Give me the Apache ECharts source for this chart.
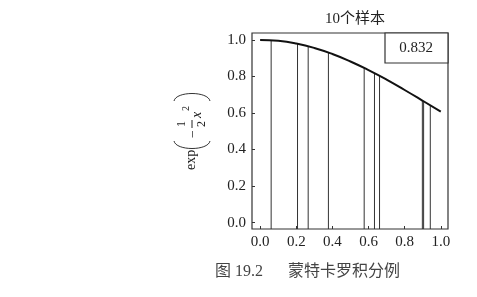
<!DOCTYPE html>
<html><head><meta charset="utf-8">
<script src="https://cdn.jsdelivr.net/npm/echarts@6/dist/echarts.min.js"></script>
<style>html,body{margin:0;padding:0;background:#fff}#c{width:477px;height:297px}</style>
</head><body><div id="c"></div>
<script>
// curve exp(-x^2/2)
const curveX = [0, 0.1, 0.2, 0.3, 0.4, 0.5, 0.6, 0.7, 0.8, 0.9, 1.0];
const curveY = [1.0, 0.995, 0.980, 0.956, 0.923, 0.882, 0.835, 0.783, 0.726, 0.667, 0.607];
// sample positions and heights
const sampleX = [0.061, 0.207, 0.266, 0.378, 0.576, 0.633, 0.661, 0.898, 0.905, 0.942];
const sampleY = [0.998, 0.979, 0.965, 0.931, 0.847, 0.819, 0.804, 0.668, 0.664, 0.642];
const tickVals = [0, 0.2, 0.4, 0.6, 0.8, 1.0];
const estimate = '0.832';
const titleText = '10个样本';
const captionNum = '图 19.2';
const captionText = '蒙特卡罗积分例';

const X_MIN = -0.045, X_MAX = 1.04, Y_MIN = -0.035, Y_MAX = 1.038;
const serif = '"Liberation Serif","Noto Sans CJK SC",serif';
const chart = echarts.init(document.getElementById('c'));
const axisCommon = {
  type: 'value',
  splitLine: {show: false},
  axisLine: {show: false, onZero: false},
  axisTick: {show: true, inside: true, length: 3, customValues: tickVals, lineStyle: {color: '#333'}},
  axisLabel: {customValues: tickVals, formatter: v => v.toFixed(1), color: '#222', fontFamily: serif, fontSize: 15, margin: 6}
};
chart.setOption({
  animation: false,
  title: {text: titleText, left: 350, textAlign: 'center', top: 7,
    textStyle: {fontFamily: serif, fontSize: 15, fontWeight: 'normal', color: '#222'}},
  grid: {left: 252, top: 33, width: 196, height: 196, show: true, borderColor: '#333', borderWidth: 1.2, backgroundColor: 'transparent'},
  xAxis: Object.assign({}, axisCommon, {min: X_MIN, max: X_MAX}),
  yAxis: Object.assign({}, axisCommon, {min: Y_MIN, max: Y_MAX}),
  series: [
    {
      type: 'custom',
      data: sampleX.map((x, i) => [x, sampleY[i]]),
      renderItem: (params, api) => {
        const top = api.coord([api.value(0), api.value(1)]);
        const bot = api.coord([api.value(0), Y_MIN]);
        return {type: 'line', shape: {x1: top[0], y1: top[1], x2: bot[0], y2: bot[1]},
          style: {stroke: '#333', lineWidth: 1}};
      },
      z: 2
    },
    {
      type: 'line', smooth: true, symbol: 'none',
      data: curveX.map((x, i) => [x, curveY[i]]),
      lineStyle: {color: '#111', width: 2}, z: 3
    }
  ],
  graphic: [
    {type: 'rect', shape: {x: 385, y: 33, width: 63, height: 30}, style: {fill: '#fff', stroke: '#333', lineWidth: 1.2}, z: 10},
    {type: 'text', x: 416, y: 48, style: {text: estimate, fontFamily: serif, fontSize: 15, fill: '#222', align: 'center', verticalAlign: 'middle'}, z: 11},
    {type: 'text', x: 215, y: 272, style: {text: captionNum, fontFamily: serif, fontSize: 16, fill: '#444', verticalAlign: 'middle'}},
    {type: 'text', x: 288, y: 272, style: {text: captionText, fontFamily: serif, fontSize: 16, fill: '#444', verticalAlign: 'middle'}},
    {type: 'group', x: 192, y: 170, rotation: Math.PI / 2, children: [
      {type: 'text', x: 0, y: -1, style: {text: 'exp', fontFamily: serif, fontSize: 14, fill: '#222', verticalAlign: 'middle'}},
      {type: 'bezierCurve', shape: {x1: 29, y1: -18, cpx1: 19, cpy1: -16, cpx2: 19, cpy2: 16, x2: 29, y2: 18}, style: {stroke: '#333', lineWidth: 1, fill: null}},
      {type: 'bezierCurve', shape: {x1: 69, y1: -18, cpx1: 79, cpy1: -16, cpx2: 79, cpy2: 16, x2: 69, y2: 18}, style: {stroke: '#333', lineWidth: 1, fill: null}},
      {type: 'text', x: 32, y: 1, style: {text: '−', fontFamily: serif, fontSize: 14, fill: '#222', verticalAlign: 'middle'}},
      {type: 'text', x: 43, y: -10, style: {text: '1', fontFamily: serif, fontSize: 12, fill: '#222', verticalAlign: 'middle'}},
      {type: 'line', shape: {x1: 42, y1: 0, x2: 50, y2: 0}, style: {stroke: '#222', lineWidth: 1}},
      {type: 'text', x: 43, y: 10, style: {text: '2', fontFamily: serif, fontSize: 12, fill: '#222', verticalAlign: 'middle'}},
      {type: 'text', x: 52, y: 5, style: {text: 'x', fontFamily: serif, fontStyle: 'italic', fontSize: 14, fill: '#222', verticalAlign: 'middle'}},
      {type: 'text', x: 59, y: -6, style: {text: '2', fontFamily: serif, fontSize: 10, fill: '#222', verticalAlign: 'middle'}}
    ]}
  ]
});
</script></body></html>
